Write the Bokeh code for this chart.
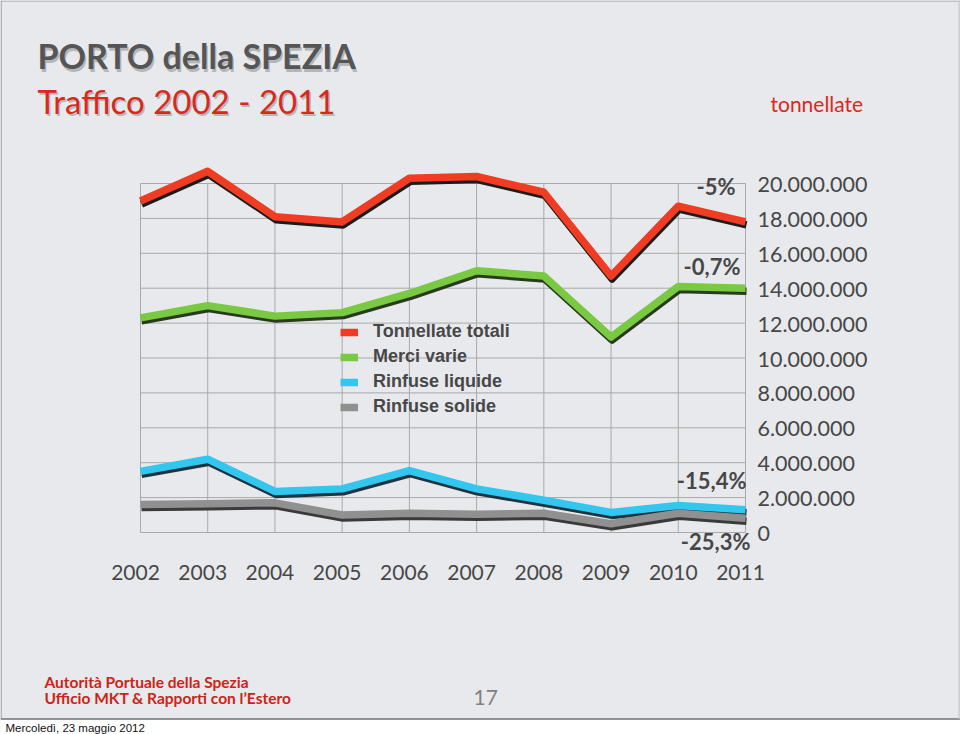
from bokeh.plotting import figure
from bokeh.models import Range1d, Label, Legend, LegendItem, Span, BoxAnnotation, ColumnDataSource
from bokeh.core.properties import value
from bokeh.embed import file_html
from bokeh.resources import INLINE

# ---------------- data ----------------
years = [2002, 2003, 2004, 2005, 2006, 2007, 2008, 2009, 2010, 2011]
totali = [19.0e6, 20.7e6, 18.1e6, 17.8e6, 20.3e6, 20.4e6, 19.5e6, 14.7e6, 18.7e6, 17.8e6]
merci_varie = [12.3e6, 13.0e6, 12.4e6, 12.6e6, 13.7e6, 15.0e6, 14.7e6, 11.2e6, 14.1e6, 14.0e6]
rinfuse_liquide = [3.5e6, 4.2e6, 2.35e6, 2.5e6, 3.55e6, 2.5e6, 1.85e6, 1.15e6, 1.55e6, 1.3e6]
rinfuse_solide = [1.6e6, 1.65e6, 1.7e6, 1.0e6, 1.1e6, 1.05e6, 1.1e6, 0.5e6, 1.1e6, 0.82e6]
series_names = ["Tonnellate totali", "Merci varie", "Rinfuse liquide", "Rinfuse solide"]
ytick_values = [0, 2e6, 4e6, 6e6, 8e6, 10e6, 12e6, 14e6, 16e6, 18e6, 20e6]
ytick_labels = ["0", "2.000.000", "4.000.000", "6.000.000", "8.000.000", "10.000.000",
                "12.000.000", "14.000.000", "16.000.000", "18.000.000", "20.000.000"]
xtick_labels = ["2002", "2003", "2004", "2005", "2006", "2007", "2008", "2009", "2010", "2011"]
changes = ["-5%", "-0,7%", "-15,4%", "-25,3%"]

# ---------------- layout (pixel anchors of the chart box) ----------------
W, H = 960, 734
GX0, GX1 = 140, 745      # canvas x of first / last year
GY20, GY0 = 183, 532     # canvas y of 20M / 0
kx = (GX1 - GX0) / (years[-1] - years[0])
ky = (GY0 - GY20) / ytick_values[-1]
x_start = years[0] - GX0 / kx
x_end = years[0] + (W - GX0) / kx
y_end = ytick_values[-1] + GY20 / ky
y_start = -(H - GY0) / ky

BG = "#e8e9ec"
RED = "#d9281c"
TXT = "#474747"


def X(px):
    return x_start + px / kx


def Y(py):
    return y_end - py / ky


p = figure(width=W, height=H, x_range=Range1d(x_start, x_end), y_range=Range1d(y_start, y_end),
           x_axis_location=None, y_axis_location=None, output_backend="svg",
           toolbar_location=None, min_border=0)
p.grid.visible = False
p.outline_line_color = None
p.background_fill_color = BG
p.border_fill_color = BG

# shadow ranges (1px right, 3px down)
p.extra_x_ranges = {"sh": Range1d(x_start - 1.0 / kx, x_end - 1.0 / kx)}
p.extra_y_ranges = {"sh": Range1d(y_start + 3.0 / ky, y_end + 3.0 / ky)}

# slide frame / date strip
p.add_layout(BoxAnnotation(top=Y(718.5), fill_color="white", fill_alpha=1.0, line_alpha=0,
                           level="underlay"))
p.add_layout(Span(location=Y(718.5), dimension="width", line_color="#6f7074", line_width=1.5))
p.add_layout(Span(location=Y(0.5), dimension="width", line_color="#9a9ca0", line_width=1))
p.add_layout(BoxAnnotation(left=X(0), right=X(1.2), bottom=Y(718.5), fill_color="#9a9ca0",
                           fill_alpha=1.0, line_alpha=0))
p.add_layout(BoxAnnotation(left=X(958), right=X(959.2), bottom=Y(718.5), fill_color="#c4c6ca",
                           fill_alpha=1.0, line_alpha=0))

# grid (0..20M x 2002..2011 box)
grid_col = "#a9a9a9"
p.segment(x0=years, y0=[ytick_values[0]] * len(years), x1=years,
          y1=[ytick_values[-1]] * len(years), line_color=grid_col, line_width=1)
p.segment(x0=[years[0]] * len(ytick_values), y0=ytick_values,
          x1=[years[-1]] * len(ytick_values), y1=ytick_values, line_color=grid_col, line_width=1)

# tick labels
ysrc = ColumnDataSource(dict(x=[years[-1]] * len(ytick_values), y=ytick_values, t=ytick_labels))
p.text(x="x", y="y", text="t", source=ysrc, x_offset=12, y_offset=1, text_align="left",
       text_baseline="middle", text_font=value("Lato"), text_font_size="21.5px",
       text_color=TXT)
xsrc = ColumnDataSource(dict(x=years, y=[ytick_values[0]] * len(years), t=xtick_labels))
p.text(x="x", y="y", text="t", source=xsrc, x_offset=-5, y_offset=40, text_align="center",
       text_baseline="middle", text_font=value("Lato"), text_font_size="21px",
       text_color=TXT)

# series
styles = [
    (totali, "#f03c22", "#1c1c1c"),
    (merci_varie, "#7ac943", "#2a3a20"),
    (rinfuse_liquide, "#33c6ee", "#1d3440"),
    (rinfuse_solide, "#909090", "#3a3a3a"),
]
renderers = []
for vals, col, shc in styles:
    p.line(years, vals, line_color=shc, line_width=7.5, line_join="round",
           x_range_name="sh", y_range_name="sh")
    r = p.line(years, vals, line_color=col, line_width=7.5, line_join="round")
    renderers.append(r)

legend = Legend(items=[LegendItem(label=n, renderers=[r]) for n, r in zip(series_names, renderers)],
                location=(340, H - 417), orientation="vertical", padding=0, spacing=4,
                glyph_width=18, glyph_height=20, label_height=20, label_standoff=15,
                border_line_alpha=0, background_fill_alpha=0,
                label_text_font="Liberation Sans", label_text_font_style="bold",
                label_text_font_size="18px", label_text_color=TXT)
p.add_layout(legend)


def lab(x, y, text, size, color, bold=False, align="left", font="Lato", alpha=1.0):
    p.add_layout(Label(x=X(x), y=Y(y), text=text, text_align=align, text_baseline="middle",
                       text_font=font, text_font_style="bold" if bold else "normal",
                       text_font_size=size, text_color=color, text_alpha=alpha))


# percentage changes
pct_pos = [(735, 186), (740, 266), (746, 480), (750, 541)]
for t, (px, py) in zip(changes, pct_pos):
    lab(px, py, t, "22px", TXT, bold=True, align="right")

# titles
lab(38.5, 57.5, "PORTO della SPEZIA", "34px", "#000000", bold=True, alpha=0.22)
lab(38.5, 102.5, "Traffico 2002 - 2011", "33px", "#000000", alpha=0.22)
lab(37, 55, "PORTO della SPEZIA", "34px", "#555555", bold=True)
lab(37, 100, "Traffico 2002 - 2011", "33px", RED)
lab(770, 103, "tonnellate", "21px", RED)

# footer
lab(44, 681, "Autorità Portuale della Spezia", "15.5px", "#cc2417", bold=True)
lab(44, 697, "Ufficio MKT & Rapporti con l\u2019Estero", "15.5px", "#cc2417", bold=True)
lab(473, 697, "17", "21px", "#808080")
lab(5, 727, "Mercoledì, 23 maggio 2012", "11.5px", "#111111", font="Liberation Sans")

open("out.html", "w").write(file_html(p, INLINE))
